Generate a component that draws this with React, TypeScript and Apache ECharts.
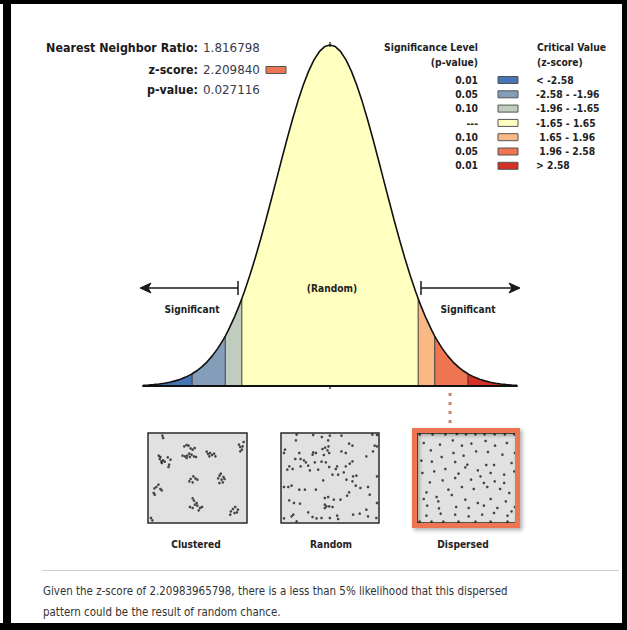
import React, { useEffect, useRef } from "react";
import * as echarts from "echarts";

// ---------- data ----------
const curveZ = [
  -3.5, -3.4, -3.3, -3.2, -3.1, -3.0, -2.9, -2.8, -2.7, -2.6, -2.5, -2.4, -2.3, -2.2, -2.1, -2.0,
  -1.9, -1.8, -1.7, -1.6, -1.5, -1.4, -1.3, -1.2, -1.1, -1.0, -0.9, -0.8, -0.7, -0.6, -0.5, -0.4,
  -0.3, -0.2, -0.1, 0, 0.1, 0.2, 0.3, 0.4, 0.5, 0.6, 0.7, 0.8, 0.9, 1.0, 1.1, 1.2, 1.3, 1.4, 1.5,
  1.6, 1.7, 1.8, 1.9, 2.0, 2.1, 2.2, 2.3, 2.4, 2.5, 2.6, 2.7, 2.8, 2.9, 3.0, 3.1, 3.2, 3.3, 3.4, 3.5,
];
const curveDensity = [
  0.0009, 0.0012, 0.0017, 0.0024, 0.0033, 0.0044, 0.006, 0.0079, 0.0104, 0.0136, 0.0175, 0.0224,
  0.0283, 0.0355, 0.044, 0.054, 0.0656, 0.079, 0.094, 0.1109, 0.1295, 0.1497, 0.1714, 0.1942,
  0.2179, 0.242, 0.2661, 0.2897, 0.3123, 0.3332, 0.3521, 0.3683, 0.3814, 0.391, 0.397, 0.3989,
  0.397, 0.391, 0.3814, 0.3683, 0.3521, 0.3332, 0.3123, 0.2897, 0.2661, 0.242, 0.2179, 0.1942,
  0.1714, 0.1497, 0.1295, 0.1109, 0.094, 0.079, 0.0656, 0.054, 0.044, 0.0355, 0.0283, 0.0224,
  0.0175, 0.0136, 0.0104, 0.0079, 0.006, 0.0044, 0.0033, 0.0024, 0.0017, 0.0012, 0.0009,
];
const bandEdges = [-3.5, -2.58, -1.96, -1.65, 1.65, 1.96, 2.58, 3.5];
const edgeDensity = [0.0009, 0.0143, 0.0584, 0.1023, 0.1023, 0.0584, 0.0143, 0.0009];
const bandColors = ["#4575b5", "#849eba", "#c0ccbe", "#ffffbf", "#fab984", "#ed7551", "#d62f27"];
const pLevels = ["0.01", "0.05", "0.10", "---", "0.10", "0.05", "0.01"];
const zRanges = ["< -2.58", "-2.58 - -1.96", "-1.96 - -1.65", "-1.65 - 1.65", " 1.65 - 1.96", " 1.96 - 2.58", "> 2.58"];
const statLabels = ["Nearest Neighbor Ratio:", "z-score:", "p-value:"];
const statValues = ["1.816798", "2.209840", "0.027116"];
const zScore = 2.20983965798;
const patternLabels = ["Clustered", "Random", "Dispersed"];
const summaryLines = [
  "Given the z-score of 2.20983965798, there is a less than 5% likelihood that this dispersed",
  "pattern could be the result of random chance.",
];

const clusteredPoints = [
  [68, 108], [70, 115],
  [133, 140], [140, 136], [146, 138], [152, 146], [158, 150], [164, 145], [128, 168], [135, 170], [142, 168],
  [148, 162], [155, 165], [162, 170], [168, 172], [150, 172], [140, 175],
  [200, 156], [204, 163], [210, 160], [216, 166], [222, 162], [226, 170], [208, 170],
  [296, 135], [300, 142], [305, 150], [310, 127], [300, 155], [307, 140],
  [57, 168], [60, 178], [65, 185], [70, 182], [66, 190], [75, 186], [84, 173], [92, 180], [88, 195], [86, 202], [62, 172],
  [148, 245], [152, 238], [160, 230], [166, 236], [172, 240], [158, 248],
  [234, 236], [238, 228], [244, 240], [250, 232], [238, 250], [248, 248], [253, 238], [242, 222],
  [44, 266], [50, 262], [56, 255], [62, 268], [66, 272], [45, 285], [42, 280],
  [158, 296], [162, 303], [165, 315], [172, 318], [180, 325], [150, 322], [158, 325], [176, 332], [186, 322], [170, 310],
  [272, 335], [278, 328], [285, 322], [290, 338], [283, 340], [270, 345], [293, 330],
  [34, 355], [38, 362],
];
const randomPoints = [
  [470, 105], [520, 106], [546, 112], [570, 108], [605, 108], [698, 105], [712, 106],
  [468, 122], [565, 122], [628, 132], [638, 138], [705, 138], [712, 140],
  [435, 150], [432, 160], [520, 158], [518, 165], [528, 160], [548, 148], [556, 144], [566, 140], [563, 152],
  [568, 160], [552, 166], [605, 155], [618, 160], [700, 155], [680, 170],
  [478, 160], [466, 178], [482, 178], [492, 182], [498, 188], [525, 188], [545, 186], [558, 188], [638, 185], [630, 192],
  [448, 200], [442, 210], [482, 200], [505, 198], [458, 208], [510, 212], [535, 210], [568, 202], [588, 208],
  [592, 200], [618, 200], [612, 218],
  [578, 225], [595, 225], [550, 242], [620, 240], [640, 230], [650, 228], [638, 245], [712, 230],
  [432, 262], [445, 262], [455, 258], [478, 270], [495, 270], [528, 270], [648, 258], [662, 265], [685, 262],
  [628, 278], [622, 288], [690, 285], [448, 302], [462, 310], [480, 312], [555, 295], [565, 292], [582, 300],
  [602, 300], [712, 310],
  [555, 315], [560, 320], [568, 320], [578, 322], [555, 325], [680, 330], [505, 338], [640, 345], [660, 342],
  [432, 356], [455, 350], [460, 345], [518, 352], [530, 356], [545, 355], [570, 355], [592, 348], [595, 358],
  [685, 350], [710, 355], [470, 365],
];
const dispersedPoints = [
  [840, 104], [878, 104], [916, 104], [950, 103], [977, 104], [1005, 104], [1032, 104], [1062, 104], [1092, 104], [1120, 104],
  [852, 130], [900, 135], [938, 122], [965, 138], [993, 132], [1035, 124], [1063, 138], [1098, 130],
  [873, 152], [940, 160], [970, 168], [1007, 155], [1042, 157], [1085, 165], [1122, 160],
  [845, 183], [876, 186], [905, 172], [945, 187], [981, 195], [1037, 196], [1060, 196], [1112, 190],
  [848, 220], [883, 215], [916, 208], [975, 203], [955, 222], [1012, 212], [1020, 230], [1050, 220], [1090, 225], [1120, 215],
  [870, 248], [908, 242], [945, 235], [992, 240], [1030, 250], [1062, 245], [1090, 250],
  [860, 278], [890, 292], [925, 270], [965, 262], [1000, 268], [1040, 262], [1078, 268], [1105, 280],
  [852, 298], [895, 305], [935, 286], [975, 300], [1012, 310], [1050, 298], [1095, 305], [1122, 322],
  [862, 318], [897, 326], [948, 322], [985, 325], [1030, 318], [1070, 325], [1112, 335],
  [860, 348], [902, 342], [945, 345], [985, 350], [1025, 345], [1060, 340], [1100, 348],
  [840, 366], [875, 366], [910, 366], [955, 366], [1005, 366], [1050, 366], [1100, 366],
];
const panelRanges = [
  { x: [25, 320], y: [100, 370] },
  { x: [423, 718], y: [100, 370] },
  { x: [832, 1128], y: [100, 370] },
];

// ---------- layout ----------
const CURVE = { left: 143, top: 44, width: 374, height: 342 };
const Z_MIN = -3.5;
const Z_MAX = 3.5;
const PANELS = [
  { left: 148, top: 433, width: 99, height: 90 },
  { left: 281, top: 433, width: 98, height: 90 },
  { left: 417, top: 433, width: 100, height: 90 },
];
const FONT = "DejaVu Sans";

export default function App() {
  const ref = useRef<HTMLDivElement>(null);

  useEffect(() => {
    if (!ref.current) return;
    const chart = echarts.init(ref.current, null, { renderer: "svg" });

    const canvas = document.createElement("canvas");
    const ctx = canvas.getContext("2d") as CanvasRenderingContext2D;
    const widthOf = (t: string, size: number, weight: string) => {
      ctx.font = `${weight} ${size}px "${FONT}"`;
      return ctx.measureText(t).width || 1;
    };
    const clamp = (v: number) => Math.max(0.6, Math.min(1.2, v));
    const sStat = clamp(152 / widthOf(statLabels[0], 12, "bold"));
    const sVal = clamp(57 / widthOf(statValues[0], 12, "normal"));
    const sLeg = clamp(94 / widthOf("Significance Level", 10, "bold"));
    const sCurve = clamp(55 / widthOf("Significant", 10, "bold"));
    const sPanel = clamp(42 / widthOf("Random", 11, "bold"));
    const sBody = clamp(465 / widthOf(summaryLines[0], 12, "normal"));

    const txt = (
      text: string, x: number, y: number, size: number, weight: string,
      align: string, scaleX: number, fill = "#222"
    ) => ({
      type: "text", x, y, scaleX, scaleY: 1, z: 20,
      style: { text, fontSize: size, fontWeight: weight, fontFamily: FONT, fill, align, verticalAlign: "middle" },
    });

    // merged sample points (curve + band edges)
    const pts: number[][] = [];
    curveZ.forEach((z, i) => pts.push([z, curveDensity[i]]));
    bandEdges.forEach((z, i) => {
      if (!pts.some((p) => Math.abs(p[0] - z) < 1e-9)) pts.push([z, edgeDensity[i]]);
    });
    pts.sort((a, b) => a[0] - b[0]);

    const series: any[] = [];
    bandColors.forEach((c, i) => {
      const a = bandEdges[i], b = bandEdges[i + 1];
      series.push({
        type: "line", xAxisIndex: 0, yAxisIndex: 0, symbol: "none", silent: true, z: 1,
        data: pts.filter((p) => p[0] >= a - 1e-9 && p[0] <= b + 1e-9),
        lineStyle: { width: 0 }, areaStyle: { color: c, opacity: 1 },
      });
    });
    bandEdges.slice(1, -1).forEach((z, i) => {
      series.push({
        type: "line", xAxisIndex: 0, yAxisIndex: 0, symbol: "none", silent: true, z: 2,
        data: [[z, 0], [z, edgeDensity[i + 1]]],
        lineStyle: { color: "#3a3a3a", width: 1 },
      });
    });
    series.push({
      type: "line", xAxisIndex: 0, yAxisIndex: 0, symbol: "none", silent: true, z: 3,
      data: pts, lineStyle: { color: "#111", width: 1.6 },
    });
    [clusteredPoints, randomPoints, dispersedPoints].forEach((d, i) => {
      series.push({
        type: "scatter", xAxisIndex: i + 1, yAxisIndex: i + 1, data: d,
        symbolSize: 2.6, itemStyle: { color: "#1e1e1e" }, silent: true, z: 4,
      });
    });

    const grids: any[] = [
      { ...CURVE, show: false },
      ...PANELS.map((p) => ({
        ...p, show: true, backgroundColor: "#e1e1e1", borderColor: "#2a2a2a", borderWidth: 1.5,
      })),
    ];
    const xAxes: any[] = [
      {
        gridIndex: 0, type: "value", min: Z_MIN, max: Z_MAX, z: 10,
        axisLine: { show: true, lineStyle: { color: "#111", width: 2 } },
        axisTick: { show: false }, axisLabel: { show: false }, splitLine: { show: false },
      },
      ...panelRanges.map((r, i) => ({
        gridIndex: i + 1, type: "value", min: r.x[0], max: r.x[1], show: false, splitLine: { show: false },
      })),
    ];
    const yAxes: any[] = [
      { gridIndex: 0, type: "value", min: 0, max: 0.4, show: false, splitLine: { show: false } },
      ...panelRanges.map((r, i) => ({
        gridIndex: i + 1, type: "value", min: r.y[0], max: r.y[1], inverse: true, show: false,
        splitLine: { show: false },
      })),
    ];

    const zx = (z: number) => CURVE.left + ((z - Z_MIN) / (Z_MAX - Z_MIN)) * CURVE.width;
    const baseY = CURVE.top + CURVE.height;
    const graphic: any[] = [];

    // stats block
    const statY = [48, 70, 90];
    statLabels.forEach((l, i) => {
      graphic.push(txt(l, 198, statY[i], 12, "bold", "right", sStat, "#1a1a1a"));
      graphic.push(txt(statValues[i], 203, statY[i], 12, "normal", "left", sVal, "#3a3a48"));
    });
    graphic.push({
      type: "rect", shape: { x: 266, y: 66.5, width: 20, height: 7 }, z: 20,
      style: { fill: bandColors[5], stroke: "#555", lineWidth: 1 },
    });

    // legend
    graphic.push(txt("Significance Level", 478, 47, 10, "bold", "right", sLeg));
    graphic.push(txt("(p-value)", 478, 62, 10, "bold", "right", sLeg));
    graphic.push(txt("Critical Value", 537, 47, 10, "bold", "left", sLeg));
    graphic.push(txt("(z-score)", 537, 62, 10, "bold", "left", sLeg));
    pLevels.forEach((p, i) => {
      const y = 80 + i * 14.3;
      graphic.push(txt(p, 478, y, 10, "bold", "right", sLeg));
      graphic.push({
        type: "rect", shape: { x: 498, y: y - 3.5, width: 20, height: 7 }, z: 20,
        style: { fill: bandColors[i], stroke: "#555", lineWidth: 1 },
      });
      graphic.push(txt(zRanges[i], 536, y, 10, "bold", "left", sLeg));
    });

    // arrows & curve labels
    const ay = 288;
    const arrowStyle = { stroke: "#1a1a1a", lineWidth: 1.5 };
    graphic.push({ type: "line", shape: { x1: 142, y1: ay, x2: 238, y2: ay }, style: arrowStyle, z: 20 });
    graphic.push({ type: "line", shape: { x1: 238, y1: ay - 7, x2: 238, y2: ay + 7 }, style: arrowStyle, z: 20 });
    graphic.push({
      type: "polygon", shape: { points: [[140, ay], [151, ay - 5], [148, ay], [151, ay + 5]] },
      style: { fill: "#1a1a1a", stroke: "#1a1a1a", lineWidth: 1 }, z: 20,
    });
    graphic.push({ type: "line", shape: { x1: 421, y1: ay, x2: 518, y2: ay }, style: arrowStyle, z: 20 });
    graphic.push({ type: "line", shape: { x1: 421, y1: ay - 7, x2: 421, y2: ay + 7 }, style: arrowStyle, z: 20 });
    graphic.push({
      type: "polygon", shape: { points: [[520, ay], [509, ay - 5], [512, ay], [509, ay + 5]] },
      style: { fill: "#1a1a1a", stroke: "#1a1a1a", lineWidth: 1 }, z: 20,
    });
    graphic.push(txt("Significant", 192, 309, 10, "bold", "center", sCurve));
    graphic.push(txt("Significant", 468, 309, 10, "bold", "center", sCurve));
    graphic.push(txt("(Random)", 332, 288, 10, "bold", "center", sCurve));

    // small ticks at centre
    graphic.push({ type: "line", shape: { x1: zx(0), y1: baseY, x2: zx(0), y2: baseY + 3 }, style: { stroke: "#111", lineWidth: 1.2 }, z: 20 });
    graphic.push({ type: "line", shape: { x1: zx(0), y1: CURVE.top - 2, x2: zx(0), y2: CURVE.top + 3 }, style: { stroke: "#111", lineWidth: 1.2 }, z: 20 });

    // dotted connector from z-score to dispersed panel
    const cx = zx(zScore) + 2;
    graphic.push({
      type: "line", shape: { x1: cx, y1: baseY + 7, x2: cx, y2: 427 },
      style: { stroke: "#c9826f", lineWidth: 3, lineDash: [3, 6] }, z: 20,
    });

    // orange frame around dispersed panel
    graphic.push({
      type: "rect", shape: { x: 414.5, y: 430.5, width: 103, height: 95 }, z: 15,
      style: {
        fill: "none", stroke: "#ed7551", lineWidth: 5,
        shadowBlur: 4, shadowColor: "rgba(0,0,0,0.35)", shadowOffsetX: 2, shadowOffsetY: 2,
      },
    });

    // panel labels
    const labelX = [196, 331, 463];
    patternLabels.forEach((l, i) => graphic.push(txt(l, labelX[i], 544, 11, "bold", "center", sPanel)));

    // separator and summary
    graphic.push({ type: "line", shape: { x1: 42, y1: 570.5, x2: 619, y2: 570.5 }, style: { stroke: "#cfcfcf", lineWidth: 1 }, z: 20 });
    summaryLines.forEach((l, i) => graphic.push(txt(l, 43, 591 + i * 21, 12, "normal", "left", sBody, "#333")));

    // outer black frame
    const frame = [
      { x: 0, y: 0, width: 627, height: 4 },
      { x: 3, y: 0, width: 8, height: 630 },
      { x: 622, y: 0, width: 5, height: 630 },
      { x: 0, y: 623, width: 627, height: 7 },
    ];
    frame.forEach((f) => graphic.push({ type: "rect", shape: f, style: { fill: "#000" }, z: 30 }));

    chart.setOption({
      animation: false,
      backgroundColor: "#fff",
      grid: grids,
      xAxis: xAxes,
      yAxis: yAxes,
      series,
      graphic,
    });

    return () => chart.dispose();
  }, []);

  return (
    <div
      ref={ref}
      style={{ position: "fixed", left: 0, top: 0, width: 627, height: 630, background: "#fff" }}
    />
  );
}
